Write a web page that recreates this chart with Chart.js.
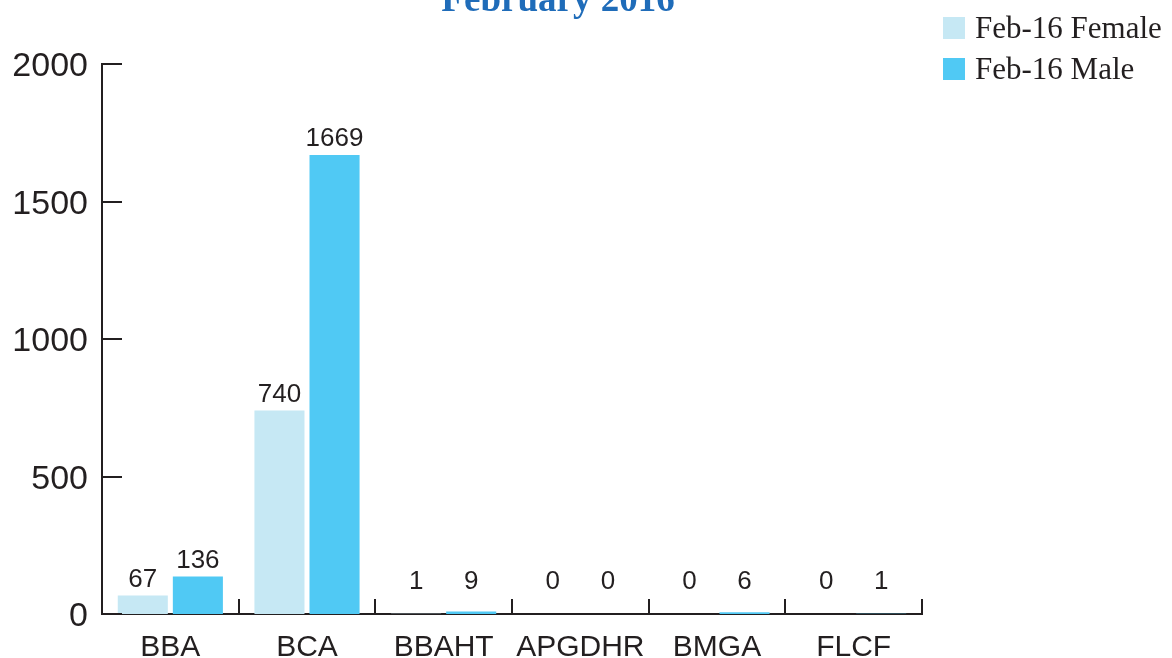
<!DOCTYPE html>
<html><head><meta charset="utf-8">
<script src="https://cdn.jsdelivr.net/npm/chart.js@4.4.0/dist/chart.umd.min.js"></script>
<style>html,body{margin:0;padding:0;background:#fff;overflow:hidden}#wrap{width:1172px;height:658px}</style>
</head><body><div id="wrap"><canvas id="c" width="1172" height="658"></canvas></div>
<script>
const categories = ['BBA','BCA','BBAHT','APGDHR','BMGA','FLCF'];
const femaleValues = [67,740,1,0,0,0];
const maleValues = [136,1669,9,0,6,1];
const yTicks = [0,500,1000,1500,2000];
const seriesNames = ['Feb-16 Female','Feb-16 Male'];
const seriesColors = ['#c6e8f4','#50c9f4'];
const titleText = 'February 2016';

const INK = '#231f20';

const decor = {
  id: 'decor',
  afterDraw(chart) {
    const ctx = chart.ctx;
    const xs = chart.scales.x, ys = chart.scales.y;
    const area = chart.chartArea;
    ctx.save();
    ctx.strokeStyle = INK;
    ctx.lineWidth = 2;
    yTicks.forEach(v => {
      const y = Math.round(ys.getPixelForValue(v));
      ctx.beginPath();
      ctx.moveTo(area.left, y);
      ctx.lineTo(area.left + 20, y);
      ctx.stroke();
    });
    for (let i = 1; i <= categories.length; i++) {
      const x = Math.round(xs.getPixelForValue(i - 0.5));
      ctx.beginPath();
      ctx.moveTo(x, area.bottom);
      ctx.lineTo(x, area.bottom - 15);
      ctx.stroke();
    }
    ctx.fillStyle = INK;
    ctx.font = '26px "Liberation Sans", Arial, sans-serif';
    ctx.textAlign = 'center';
    ctx.textBaseline = 'alphabetic';
    const base = ys.getPixelForValue(0);
    chart.data.datasets.forEach((ds, di) => {
      const meta = chart.getDatasetMeta(di);
      meta.data.forEach((bar, i) => {
        const y = Math.min(bar.y - 9, base - 25);
        ctx.fillText(String(ds.data[i]), bar.x, y);
      });
    });
    ctx.fillStyle = '#1f6cb9';
    ctx.font = 'bold 37px "Liberation Serif", "Times New Roman", serif';
    ctx.textAlign = 'center';
    ctx.fillText(titleText, 558, 11);
    ctx.font = '31px "Liberation Serif", "Times New Roman", serif';
    ctx.textAlign = 'left';
    seriesNames.forEach((name, i) => {
      const top = 17 + i * 41;
      ctx.fillStyle = seriesColors[i];
      ctx.fillRect(943, top, 22, 22);
      ctx.fillStyle = INK;
      ctx.fillText(name, 975, top + 21);
    });
    ctx.restore();
  }
};

new Chart(document.getElementById('c'), {
  type: 'bar',
  data: {
    labels: categories,
    datasets: [
      { label: seriesNames[0], data: femaleValues, backgroundColor: seriesColors[0], borderWidth: 0 },
      { label: seriesNames[1], data: maleValues, backgroundColor: seriesColors[1], borderWidth: 0 }
    ]
  },
  options: {
    responsive: false,
    animation: false,
    devicePixelRatio: 1,
    categoryPercentage: 0.806,
    barPercentage: 0.909,
    layout: { padding: { top: 64, right: 250, left: 0, bottom: 0 } },
    plugins: { legend: { display: false }, title: { display: false }, tooltip: { enabled: false } },
    scales: {
      x: {
        grid: { display: false, drawTicks: false },
        border: { display: true, color: INK, width: 2 },
        ticks: { color: INK, font: { family: '"Liberation Sans", Arial, sans-serif', size: 30 }, padding: 16, maxRotation: 0, autoSkip: false },
        afterFit(s) { s.height = 44; }
      },
      y: {
        min: 0, max: 2000,
        grid: { display: false, drawTicks: false },
        border: { display: true, color: INK, width: 2 },
        ticks: { color: INK, font: { family: '"Liberation Sans", Arial, sans-serif', size: 34 }, padding: 14, labelOffset: 3, callback: v => String(v) },
        afterBuildTicks(s) { s.ticks = yTicks.map(v => ({ value: v })); },
        afterFit(s) { s.width = 102; }
      }
    }
  },
  plugins: [decor]
});
</script>
</body></html>
